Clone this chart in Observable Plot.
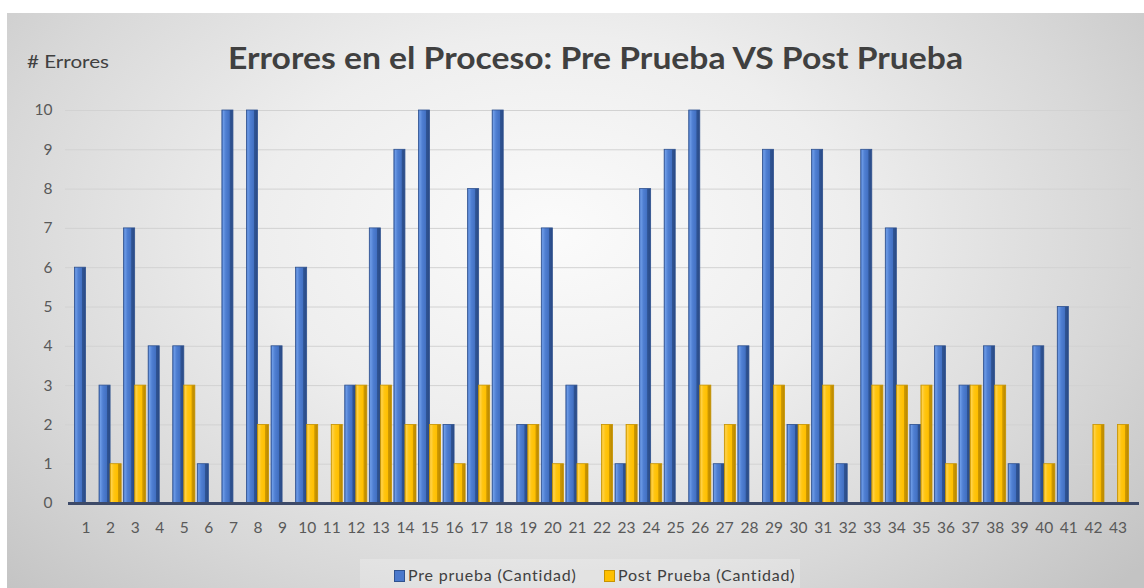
<!DOCTYPE html>
<html>
<head>
<meta charset="utf-8">
<script src="https://cdn.jsdelivr.net/npm/d3@7"></script>
<script src="https://cdn.jsdelivr.net/npm/@observablehq/plot@0.6"></script>
<style>
  html, body { margin: 0; padding: 0; background: #ffffff; }
  #wrap { position: relative; width: 1144px; height: 588px; overflow: hidden; font-family: Lato, "Open Sans", sans-serif; }
  #bg { position: absolute; left: 7px; top: 13px; width: 1137px; height: 575px;
        background: radial-gradient(ellipse 68% 90% at 48% 38%, #fbfbfb 0%, #eeeeee 38%, #d8d8d8 72%, #c3c3c3 100%); }
  #ylabel { position: absolute; left: 27px; top: 50px; font-size: 18px; color: #404040; white-space: nowrap; transform-origin: left top; }
  #title { position: absolute; left: 228px; top: 38px; font-size: 31px; font-weight: 700; color: #404040; white-space: nowrap; transform-origin: left top; }
  #chart { position: absolute; left: 0; top: 0; }
  #legend { position: absolute; left: 360px; top: 559px; width: 440px; height: 29px; background: rgba(255,255,255,0.22);
            font-size: 16px; letter-spacing: 0.8px; color: #404040; }
  .item { position: absolute; top: 6px; white-space: nowrap; }
  .sw { display: inline-block; width: 9px; height: 10px; margin-right: 3px; vertical-align: -1px; border: 1px solid; }
</style>
</head>
<body>
<div id="wrap">
  <div id="bg"></div>
  <div id="ylabel"># Errores</div>
  <div id="title">Errores en el Proceso: Pre Prueba VS Post Prueba</div>
  <div id="chart"></div>
  <div id="legend">
    <span class="item" style="left:34px"><span class="sw" style="background:#4a78cc;border-color:#2f528f"></span>Pre prueba (Cantidad)</span>
    <span class="item" style="left:244px"><span class="sw" style="background:#ffc000;border-color:#c79400"></span>Post Prueba (Cantidad)</span>
  </div>
</div>
<script>
const categories = d3.range(1, 44).map(String);
const preValues  = [6,3,7,4,4,1,10,10,4,6,0,3,7,9,10,2,8,10,2,7,3,0,1,8,9,10,1,4,9,2,9,1,9,7,2,4,3,4,1,4,5,0,0];
const postValues = [0,1,3,0,3,0,0,2,0,2,2,3,3,2,2,1,3,0,2,1,1,2,2,1,0,3,2,0,3,2,3,0,3,3,3,1,3,3,0,1,0,2,2];
const yTicks = d3.range(0, 11);
const seriesNames = ["Pre prueba (Cantidad)", "Post Prueba (Cantidad)"];

const pre = categories.map((c, i) => ({cat: c, value: preValues[i], series: seriesNames[0]}));
const post = categories.map((c, i) => ({cat: c, value: postValues[i], series: seriesNames[1]}));

const W = 1144, H = 545, ML = 72, MR = 13, MT = 110, MB = 42;
const pad = 0.1;
const step = (W - ML - MR) / (categories.length + pad);
const half = step * (1 - pad) / 2;

const chart = Plot.plot({
  width: W, height: H,
  marginLeft: ML, marginRight: MR, marginTop: MT, marginBottom: MB,
  style: { background: "transparent", fontFamily: "Lato, 'Open Sans', sans-serif", fontSize: "15.5px", color: "#595959" },
  x: { domain: categories, padding: pad, round: false, label: null, tickSize: 0, tickPadding: 18 },
  y: { domain: [0, 10], ticks: yTicks, label: null, tickSize: 0, tickPadding: 20 },
  marks: [
    Plot.ruleY(yTicks.filter(d => d > 0), { stroke: "#d2d2d2", strokeWidth: 1, insetLeft: -7 }),
    Plot.barY(pre, { x: "cat", y: "value", fill: "#4472c4", stroke: "#2f528f", strokeWidth: 0.8, insetRight: half }),
    Plot.barY(post, { x: "cat", y: "value", fill: "#ffc000", stroke: "#c79400", strokeWidth: 0.8, insetLeft: half }),
    Plot.ruleY([0], { stroke: "#3d4a68", strokeWidth: 3, insetLeft: -4, insetRight: -8 })
  ]
});

const svg = d3.select(chart);
const defs = svg.insert("defs", ":first-child");
function grad(id, stops) {
  const g = defs.append("linearGradient").attr("id", id).attr("x1", "0").attr("x2", "1").attr("y1", "0").attr("y2", "0");
  stops.forEach(([o, c]) => g.append("stop").attr("offset", o).attr("stop-color", c));
}
grad("gBlue", [[0, "#3d68b8"], [0.12, "#6d9be6"], [0.35, "#4f7fd2"], [0.68, "#4270c2"], [0.72, "#2f5494"], [1, "#2a4a86"]]);
grad("gYellow", [[0, "#e8aa00"], [0.12, "#ffd24a"], [0.35, "#ffc511"], [0.68, "#ffbf00"], [0.72, "#cf9a00"], [1, "#b88600"]]);
svg.selectAll('[fill="#4472c4"]').attr("fill", "url(#gBlue)");
svg.selectAll('[fill="#ffc000"]').attr("fill", "url(#gYellow)");
svg.selectAll("text").attr("fill", "#595959");

document.getElementById("chart").appendChild(chart);

function fit(id, w) {
  const el = document.getElementById(id);
  const r = el.getBoundingClientRect();
  el.style.transform = `scaleX(${w / r.width})`;
}
fit("title", 735);
fit("ylabel", 82);
</script>
</body>
</html>
